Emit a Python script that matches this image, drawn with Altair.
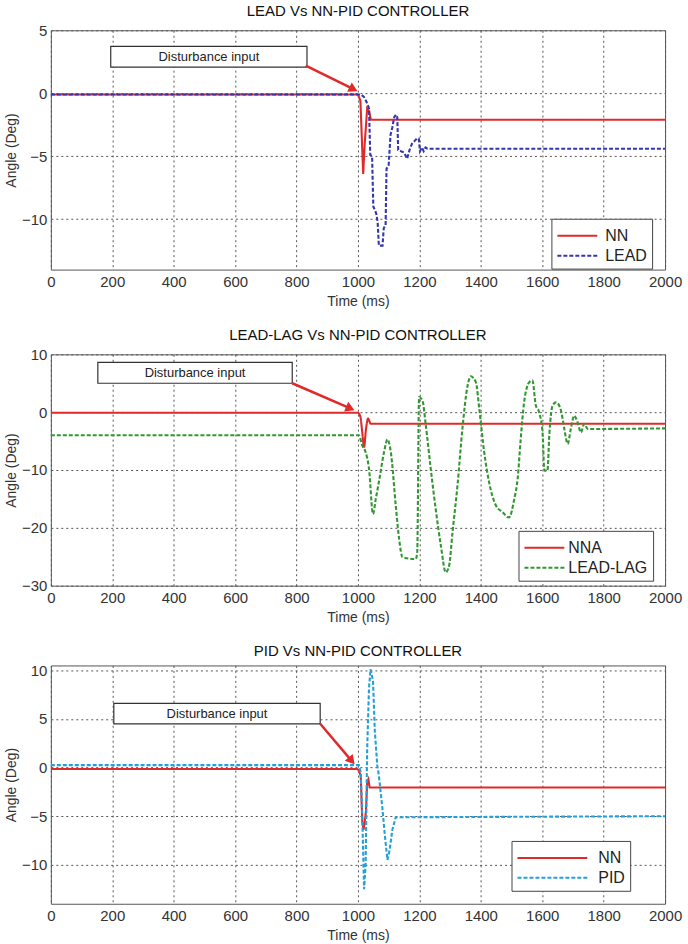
import math
import altair as alt
import pandas as pd

W = 616
TIME_TICKS = list(range(0, 2001, 200))
FONT = "Liberation Sans, Arial, sans-serif"
NARROW = "Liberation Sans Narrow, Liberation Sans, Arial, sans-serif"
RED = "#e02a2a"

# ---------------- Panel 1 : LEAD vs NN-PID ----------------
p1_title = "LEAD Vs NN-PID CONTROLLER"
p1_names = ["NN", "LEAD"]
p1_colors = [RED, "#3535b0"]
p1_nn_t = [0, 1000, 1008, 1017, 1022, 1030, 1036, 1042, 2000]
p1_nn_v = [-0.1, -0.1, -0.6, -6.4, -4.0, -1.2, -1.4, -2.1, -2.1]
p1_lead_t = [0, 1010, 1020, 1030, 1036, 1040, 1046, 1050, 1056, 1060, 1064, 1068,
             1080, 1084, 1090, 1093, 1100, 1106, 1112, 1118, 1124, 1128, 1131, 1140,
             1150, 1160, 1168, 1176, 1184, 1192, 1198, 1202, 1208, 1214, 1220, 1226, 2000]
p1_lead_v = [-0.1, -0.1, -0.3, -0.8, -1.2, -4.9, -5.0, -9.0, -9.3, -9.6, -10.2, -12.1,
             -12.1, -10.7, -10.5, -6.0, -5.7, -3.3, -2.7, -1.9, -1.7, -1.9, -4.5, -4.6,
             -4.7, -5.2, -4.5, -4.0, -3.8, -3.6, -3.6, -4.6, -4.3, -4.6, -4.3, -4.4, -4.4]
p1_ydomain = [-14, 5]
p1_yticks = [-10, -5, 0, 5]

# ---------------- Panel 2 : LEAD-LAG vs NN-PID ----------------
p2_title = "LEAD-LAG Vs NN-PID CONTROLLER"
p2_names = ["NNA", "LEAD-LAG"]
p2_colors = [RED, "#329632"]
p2_nn_t = [0, 1000, 1008, 1014, 1020, 1026, 1033, 1037, 1041, 2000]
p2_nn_v = [-0.1, -0.1, -0.8, -3.5, -6.0, -3.0, -1.1, -1.5, -2.0, -2.0]
p2_ll_t = [0, 1003, 1014, 1025, 1036, 1049, 1058, 1068, 1085, 1096, 1107, 1123, 1134,
           1145, 1188, 1193, 1199, 1210, 1221, 1237, 1253, 1270, 1286, 1297, 1308, 1324,
           1340, 1357, 1367, 1384, 1395, 1411, 1427, 1449, 1471, 1492, 1509, 1520, 1530,
           1541, 1558, 1568, 1579, 1590, 1601, 1607, 1617, 1623, 1634, 1645, 1661, 1672,
           1683, 1693, 1704, 1715, 1726, 1737, 1748, 2000]
p2_ll_v = [-4.0, -4.0, -5.8, -6.9, -9.8, -17.6, -15.0, -12.1, -6.9, -4.7, -6.9, -16.1,
           -21.9, -25.1, -25.4, -24.2, 2.6, 2.0, -2.3, -9.8, -16.7, -23.1, -27.7, -26.5,
           -20.7, -12.7, -2.9, 4.6, 6.2, 5.2, 0.6, -6.9, -12.1, -16.1, -17.3, -18.2,
           -15.0, -11.5, -4.6, 1.7, 5.2, 5.5, 1.2, 0.0, -3.5, -10.1, -10.1, -4.0, 1.2,
           1.7, 0.3, -2.9, -5.5, -2.9, -0.6, -1.7, -3.5, -2.0, -2.9, -2.8]
p2_ydomain = [-30, 10]
p2_yticks = [-30, -20, -10, 0, 10]

# ---------------- Panel 3 : PID vs NN-PID ----------------
p3_title = "PID Vs NN-PID CONTROLLER"
p3_names = ["NN", "PID"]
p3_colors = [RED, "#22a0da"]
p3_nn_t = [0, 1000, 1009, 1014, 1018, 1022, 1026, 1030, 1034, 1038, 2000]
p3_nn_v = [-0.15, -0.15, -0.8, -5.5, -6.4, -5.6, -4.5, -1.5, -1.2, -2.05, -2.05]
p3_pid_t = [0, 1003, 1009, 1014, 1020, 1025, 1030, 1036, 1041, 1049, 1055, 1063, 1068,
            1079, 1088, 1096, 1103, 1112, 1123, 1200, 2000]
p3_pid_v = [0.25, 0.25, -0.5, -5.0, -12.5, -9.9, 1.9, 8.2, 10.1, 8.9, 3.7, 0.2, -0.8,
            -4.0, -7.1, -9.5, -8.5, -6.4, -5.1, -5.1, -5.0]
p3_ydomain = [-14, 10.5]
p3_yticks = [-10, -5, 0, 5, 10]

# annotation boxes (time0, time1, angle_bottom, angle_top) and arrows (t_start, v_start, t_tip, v_tip)
ANNOT_TEXT = "Disturbance input"
p1_box = (195, 834, 2.07, 3.73)
p1_arrow = (830, 2.2, 1000, 0.15)
p2_box = (153, 786, 5.0, 8.6)
p2_arrow = (786, 5.0, 990, 0.3)
p3_box = (205, 877, 4.5, 6.6)
p3_arrow = (877, 4.5, 990, 0.3)


def panel(title, names, colors, curves, ydomain, yticks, height, box, arrow,
          leg_xy, sym_len, label_gap, interp):
    rows = []
    for name, (ts, vs) in zip(names, curves):
        for i, (t, v) in enumerate(zip(ts, vs)):
            rows.append({"t": t, "v": v, "series": name, "order": i})
    df = pd.DataFrame(rows)

    xscale = alt.Scale(domain=[0, 2000], nice=False, zero=False)
    yscale = alt.Scale(domain=ydomain, nice=False, zero=False)
    xaxis = alt.Axis(values=TIME_TICKS, title="Time (ms)", labelFlush=False, format="d",
                     labelPadding=5, titlePadding=5)
    yaxis = alt.Axis(values=yticks, title="Angle (Deg)", labelFlush=False, format="d",
                     labelPadding=4, titlePadding=3)

    def X(f):
        return alt.X(f, type="quantitative", scale=xscale, axis=xaxis)

    def Y(f):
        return alt.Y(f, type="quantitative", scale=yscale, axis=yaxis)

    r = 11
    path = "M-1,0H%.3f" % (sym_len / r - 1)
    legend = alt.Legend(orient="none", legendX=leg_xy[0], legendY=leg_xy[1], title=None,
                        symbolType=path, symbolSize=(2 * r) ** 2, symbolStrokeWidth=2,
                        labelOffset=sym_len - 2 * r + label_gap, labelFontSize=16,
                        labelColor="#222", labelFont=FONT, padding=5, rowPadding=0,
                        strokeColor="#444", fillColor="white")
    lines = alt.Chart(df).mark_line(strokeWidth=2.1, interpolate=interp).encode(
        x=X("t"), y=Y("v"),
        color=alt.Color("series:N", scale=alt.Scale(domain=names, range=colors), legend=legend),
        strokeDash=alt.StrokeDash("series:N", scale=alt.Scale(domain=names, range=[[1, 0], [4, 2]]),
                                  legend=legend),
        order="order:Q",
    )

    bdf = pd.DataFrame([{"x0": box[0], "x1": box[1], "y0": box[2], "y1": box[3],
                         "xc": (box[0] + box[1]) / 2, "yc": (box[2] + box[3]) / 2,
                         "label": ANNOT_TEXT}])
    rect = alt.Chart(bdf).mark_rect(fill="white", stroke="#333", strokeWidth=1.2).encode(
        x=X("x0"), x2="x1", y=Y("y0"), y2="y1")
    text = alt.Chart(bdf).mark_text(font=NARROW, fontSize=13, color="#222").encode(
        x=X("xc"), y=Y("yc"), text="label:N")

    # arrow geometry
    sx = W / 2000.0
    sy = height / (ydomain[1] - ydomain[0])
    dx = (arrow[2] - arrow[0]) * sx
    dy = (arrow[1] - arrow[3]) * sy
    ang = math.degrees(math.atan2(dy, dx))
    back = 5.0
    hx = arrow[2] - back * math.cos(math.radians(ang)) / sx
    hy = arrow[3] + back * math.sin(math.radians(ang)) / sy
    adf = pd.DataFrame([{"xs": arrow[0], "ys": arrow[1], "xe": hx, "ye": hy}])
    rule = alt.Chart(adf).mark_rule(color=RED, strokeWidth=2.5).encode(
        x=X("xs"), x2="xe", y=Y("ys"), y2="ye")
    head = alt.Chart(adf).mark_point(shape="triangle-right", filled=True, color=RED,
                                     size=110, opacity=1, angle=ang).encode(
        x=X("xe"), y=Y("ye"))

    return alt.layer(lines, rect, text, rule, head).properties(
        width=W, height=height,
        title=alt.TitleParams(title, fontSize=15, fontWeight="normal", color="#111",
                              font=FONT, offset=4),
    )


c1 = panel(p1_title, p1_names, p1_colors, [(p1_nn_t, p1_nn_v), (p1_lead_t, p1_lead_v)],
           p1_ydomain, p1_yticks, 240, p1_box, p1_arrow, (502, 189), 40, 7, "linear")
c2 = panel(p2_title, p2_names, p2_colors, [(p2_nn_t, p2_nn_v), (p2_ll_t, p2_ll_v)],
           p2_ydomain, p2_yticks, 232, p2_box, p2_arrow, (469, 177), 40, 3, "monotone")
c3 = panel(p3_title, p3_names, p3_colors, [(p3_nn_t, p3_nn_v), (p3_pid_t, p3_pid_v)],
           p3_ydomain, p3_yticks, 239, p3_box, p3_arrow, (462, 176), 70, 10, "linear")

chart = alt.vconcat(c1, c2, c3, spacing=18).resolve_scale(
    color="independent", strokeDash="independent"
).resolve_legend(color="independent", strokeDash="independent").properties(
    padding={"left": 4, "top": 2, "right": 5, "bottom": 5}
).configure(font=FONT, background="white").configure_view(
    stroke="#555", strokeWidth=1
).configure_axis(
    grid=True, gridColor="#555", gridDash=[2, 3], gridWidth=1, domain=False, ticks=False,
    labelFontSize=15, labelColor="#333", labelFont=FONT,
    titleFontSize=14, titleFontWeight="normal", titleColor="#333", titleFont=FONT,
)

chart.save("out.html", embed_options={"renderer": "svg", "actions": False})
